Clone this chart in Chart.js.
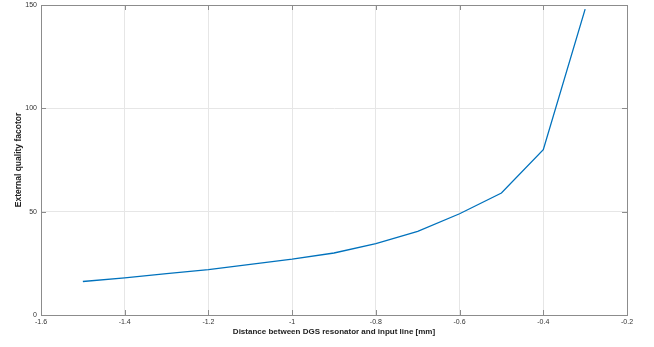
<!DOCTYPE html>
<html><head><meta charset="utf-8">
<script src="https://cdn.jsdelivr.net/npm/chart.js@4"></script>
<style>html,body{margin:0;padding:0;background:#fff}#wrap{width:654px;height:347px}</style>
</head><body><div id="wrap"><canvas id="c"></canvas></div>
<script>
const distances = [-1.5, -1.4, -1.3, -1.2, -1.1, -1.0, -0.9, -0.8, -0.7, -0.6, -0.5, -0.4, -0.3];
const qext = [16.2, 18, 20, 22, 24.5, 27, 30, 34.5, 40.5, 49, 59, 80, 148];
const xTicks = [-1.6, -1.4, -1.2, -1, -0.8, -0.6, -0.4, -0.2];
const yTicks = [0, 50, 100, 150];

const boxPlugin = {
  id: 'box',
  afterDraw(chart) {
    const {ctx, chartArea: a, scales} = chart;
    ctx.save();
    ctx.strokeStyle = '#8c8c8c';
    ctx.lineWidth = 1;
    ctx.beginPath();
    xTicks.forEach(v => {
      const px = Math.round(scales.x.getPixelForValue(v)) + 0.5;
      ctx.moveTo(px, a.bottom); ctx.lineTo(px, a.bottom - 5);
      ctx.moveTo(px, a.top); ctx.lineTo(px, a.top + 5);
    });
    yTicks.forEach(v => {
      const py = Math.round(scales.y.getPixelForValue(v)) + 0.5;
      ctx.moveTo(a.left, py); ctx.lineTo(a.left + 5, py);
      ctx.moveTo(a.right, py); ctx.lineTo(a.right - 5, py);
    });
    ctx.stroke();
    ctx.strokeRect(Math.round(a.left) + 0.5, Math.round(a.top) + 0.5, Math.round(a.right - a.left), Math.round(a.bottom - a.top));
    ctx.restore();
  }
};

new Chart(document.getElementById('c'), {
  type: 'line',
  data: {
    datasets: [{
      data: distances.map((x, i) => ({x, y: qext[i]})),
      borderColor: '#0072BD',
      borderWidth: 1.3,
      pointRadius: 0,
      tension: 0,
      fill: false
    }]
  },
  options: {
    responsive: true,
    maintainAspectRatio: false,
    animation: false,
    layout: {padding: {left: 0, right: 27, top: 5, bottom: 0}},
    plugins: {legend: {display: false}, tooltip: {enabled: false}},
    scales: {
      x: {
        type: 'linear', min: -1.6, max: -0.2,
        afterBuildTicks: s => { s.ticks = xTicks.map(v => ({value: v})); },
        afterFit: s => { s.height = 32; s.paddingLeft = 0; s.paddingRight = 0; },
        grid: {color: '#e6e6e6', drawTicks: false},
        border: {color: '#8c8c8c'},
        ticks: {padding: 3, color: '#333', font: {family: 'Liberation Sans', size: 7},
          callback: v => String(Number(v.toFixed(1)))},
        title: {display: true, text: 'Distance between DGS resonator and input line [mm]',
          color: '#222', font: {family: 'Liberation Sans', size: 8, weight: 'bold'}, padding: {top: 0, bottom: 10}}
      },
      y: {
        type: 'linear', min: 0, max: 150,
        afterBuildTicks: s => { s.ticks = yTicks.map(v => ({value: v})); },
        afterFit: s => { s.width = 41; s.paddingTop = 0; s.paddingBottom = 0; },
        grid: {color: '#e6e6e6', drawTicks: false},
        border: {color: '#8c8c8c'},
        ticks: {padding: 4, color: '#333', font: {family: 'Liberation Sans', size: 7}},
        title: {display: true, text: 'External quality facotor',
          color: '#222', font: {family: 'Liberation Sans', size: 8.5, weight: 'bold'}, padding: {top: 14, bottom: 0}}
      }
    }
  },
  plugins: [boxPlugin]
});
</script></body></html>
